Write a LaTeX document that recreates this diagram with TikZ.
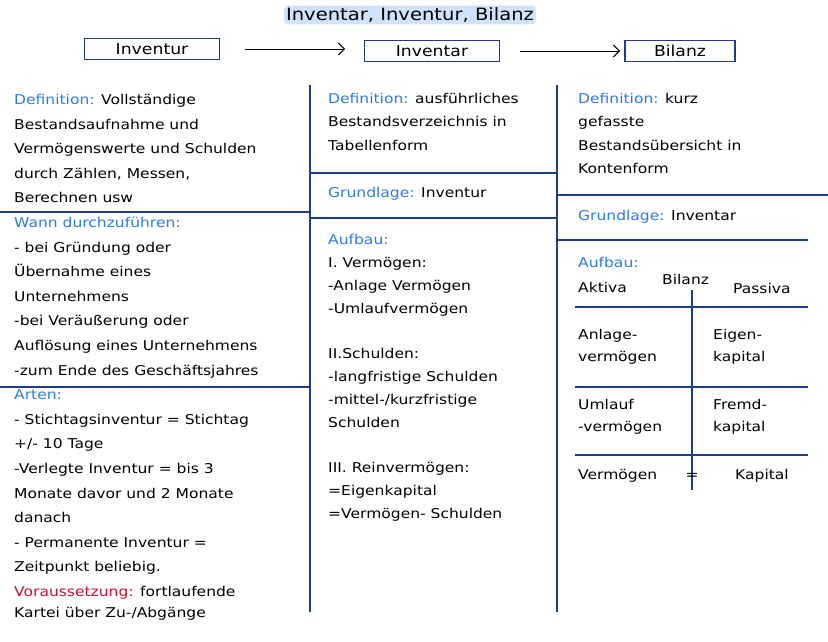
\documentclass[tikz,border=0pt]{standalone}
\usepackage{fontspec}
\setmainfont{DejaVu Sans}[FakeStretch=1.15]
\usetikzlibrary{arrows.meta}
\definecolor{ink}{HTML}{1F3C88}
\definecolor{hd}{HTML}{2A7BE0}
\definecolor{rd}{HTML}{C8102E}
\definecolor{hl}{HTML}{CFE3FA}
\begin{document}
\begin{tikzpicture}[x=1pt,y=-1pt,
    col/.style={anchor=north west,align=left,inner sep=0pt,
      font=\fontsize{13.5}{24.6}\selectfont},
    topbox/.style={draw=ink,line width=1.2pt,minimum width=#1,minimum height=21pt,
      inner sep=0pt,font=\fontsize{15}{17}\selectfont},
    sep/.style={ink,line width=1.1pt},
    flow/.style={line width=1pt,-{Straight Barb[length=6pt]}},
  ]
  \useasboundingbox (0,0) rectangle (828,641);
  % faint dot grid
  \foreach \i in {0,...,41} \foreach \j in {0,...,32}
    \fill[black!12] (\i*20+5,\j*20+5) circle (0.6pt);
  % title and top row
  \node[fill=hl,rounded corners=4pt,inner sep=2pt,font=\fontsize{17}{19}\selectfont] (title) at (410,15) {Inventar, Inventur, Bilanz};
  \node[topbox=135pt] (inventur) at (152,49) {Inventur};
  \node[topbox=135pt] (inventar) at (432,51) {Inventar};
  \node[topbox=110pt] (bilanz) at (680,51) {Bilanz};
  \draw[flow] (inventur.east)++(25,0) coordinate (a1) -- ++(100,0) coordinate (a2);
  \draw[flow] (inventar.east)++(20,0) coordinate (b1) -- ++(100,0) coordinate (b2);
  % column rules
  \draw[sep] (310,85) -- (310,612);
  \draw[sep] (557,85) -- (557,612);
  \draw[sep] (0,212) -- (310,212);
  \draw[sep] (0,387) -- (310,387);
  \draw[sep] (310,173) -- (557,173);
  \draw[sep] (310,218) -- (557,218);
  \draw[sep] (557,195) -- (828,195);
  \draw[sep] (557,240) -- (808,240);
  % left column
  \node[col] (left) at (14,94) {\textcolor{hd}{Definition:} Vollständige\\
    Bestandsaufnahme und\\ Vermögenswerte und Schulden\\ durch Zählen, Messen,\\
    Berechnen usw\\ \textcolor{hd}{Wann durchzuführen:}\\ - bei Gründung oder\\
    Übernahme eines\\ Unternehmens\\ -bei Veräußerung oder\\
    Auflösung eines Unternehmens\\ -zum Ende des Geschäftsjahres\\
    \textcolor{hd}{Arten:}\\ - Stichtagsinventur = Stichtag\\ +/- 10 Tage\\
    -Verlegte Inventur = bis 3\\ Monate davor und 2 Monate\\ danach\\
    - Permanente Inventur =\\ Zeitpunkt beliebig.\\
    \textcolor{rd}{Voraussetzung:} fortlaufende\\[-4pt] Kartei über Zu-/Abgänge};
  % middle column
  \node[col,font=\fontsize{13.5}{23.5}\selectfont] (mid1) at (328,93) {\textcolor{hd}{Definition:} ausführliches\\
    Bestandsverzeichnis in\\ Tabellenform};
  \node[col] (mid2) at (328,187) {\textcolor{hd}{Grundlage:} Inventur};
  \node[col,font=\fontsize{13.5}{23}\selectfont] (mid3) at (328,234) {\textcolor{hd}{Aufbau:}\\ I. Vermögen:\\
    -Anlage Vermögen\\ -Umlaufvermögen\\[22pt] II.Schulden:\\ -langfristige Schulden\\
    -mittel-/kurzfristige\\ Schulden\\[22pt] III. Reinvermögen:\\ =Eigenkapital\\
    =Vermögen- Schulden};
  % right column
  \node[col,font=\fontsize{13.5}{23.5}\selectfont] (right1) at (578,93) {\textcolor{hd}{Definition:} kurz\\
    gefasste\\ Bestandsübersicht in\\ Kontenform};
  \node[col] (right2) at (578,210) {\textcolor{hd}{Grundlage:} Inventar};
  \node[col] (right3) at (578,257) {\textcolor{hd}{Aufbau:}};
  % Bilanz T-account
  \draw[sep] (575,307) -- (808,307);
  \draw[sep] (575,387) -- (808,387);
  \draw[sep] (575,455) -- (808,455);
  \draw[sep] (692,290) -- (692,490);
  \node[col] (aktiva) at (578,282) {Aktiva};
  \node[col] (bil) at (662,274) {Bilanz};
  \node[col] (passiva) at (733,283) {Passiva};
  \node[col,font=\fontsize{13.5}{22}\selectfont] (av) at (578,329) {Anlage-\\ vermögen};
  \node[col,font=\fontsize{13.5}{22}\selectfont] (ek) at (713,329) {Eigen-\\ kapital};
  \node[col,font=\fontsize{13.5}{22}\selectfont] (uv) at (578,399) {Umlauf\\ -vermögen};
  \node[col,font=\fontsize{13.5}{22}\selectfont] (fk) at (713,399) {Fremd-\\ kapital};
  \node[col] (verm) at (578,469) {Vermögen};
  \node[anchor=base,inner sep=0pt,font=\fontsize{13.5}{24.6}\selectfont] (gl) at (verm.base -| 692,0) {=};
  \node[col] (kap) at (735,469) {Kapital};
\end{tikzpicture}
\end{document}
